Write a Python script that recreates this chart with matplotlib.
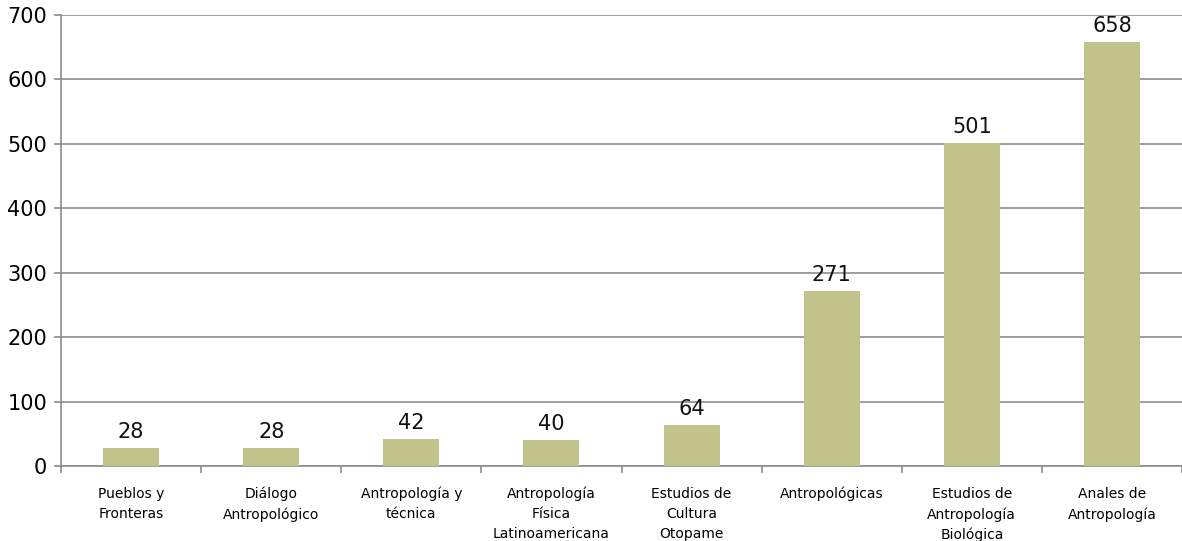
import numpy as np
import matplotlib.pyplot as plt

categories = ["Pueblos y\nFronteras", "Diálogo\nAntropológico", "Antropología y\ntécnica",
              "Antropología\nFísica\nLatinoamericana", "Estudios de\nCultura\nOtopame",
              "Antropológicas", "Estudios de\nAntropología\nBiológica", "Anales de\nAntropología"]
values = [28, 28, 42, 40, 64, 271, 501, 658]
yticks = [0, 100, 200, 300, 400, 500, 600, 700]

fig = plt.figure(figsize=(11.82, 5.41), dpi=100)
ax = fig.add_axes([61 / 1182, 1 - 466 / 541, 1 - 61 / 1182, (466 - 15) / 541])

x = np.arange(len(categories))
bars = ax.bar(x, values, width=0.4, color="#C2C28B", zorder=3)

for xi, v in zip(x, values):
    ax.annotate(str(v), (xi, v), xytext=(0, 4.5), textcoords="offset points",
                ha="center", va="bottom", fontsize=15, color="#111111")

ax.set_xlim(-0.5, len(categories) - 0.5)
ax.set_ylim(0, 700)
ax.set_yticks(yticks)
ax.yaxis.grid(True, color="#8c8c8c", linewidth=1.2, zorder=0)

ax.set_xticks(x)
ax.set_xticklabels(categories, fontsize=10, linespacing=1.55, va="top")
ax.set_xticks(np.arange(len(categories) + 1) - 0.5, minor=True)
ax.tick_params(axis="x", which="major", length=0, pad=15)
ax.tick_params(axis="x", which="minor", length=5, color="#8c8c8c", width=1.2)
ax.tick_params(axis="y", length=5, color="#8c8c8c", width=1.2, labelsize=15, pad=5)

for s in ["top", "right"]:
    ax.spines[s].set_visible(False)
for s in ["left", "bottom"]:
    ax.spines[s].set_color("#8c8c8c")
    ax.spines[s].set_linewidth(1.2)

fig.savefig("out.png", dpi=100)
